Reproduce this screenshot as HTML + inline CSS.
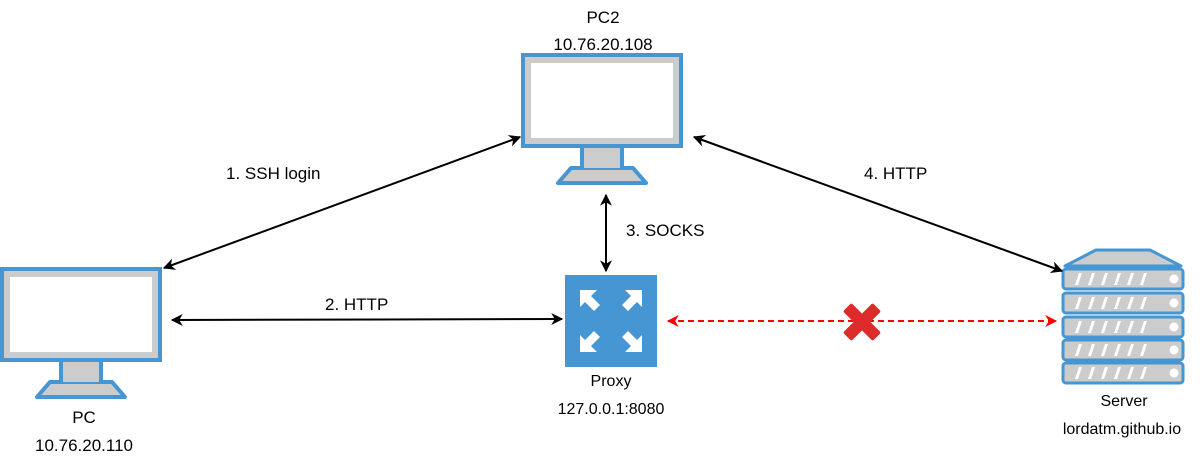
<!DOCTYPE html>
<html><head><meta charset="utf-8"><style>
body{margin:0;background:#fff;}
svg text{font-family:"Liberation Sans",sans-serif;font-size:17px;fill:#000;}
</style></head><body>
<svg width="1200" height="462" viewBox="0 0 1200 462" xmlns="http://www.w3.org/2000/svg">
<defs>
<marker id="a" viewBox="0 0 10 10" refX="9" refY="5" markerWidth="14" markerHeight="12" orient="auto-start-reverse" markerUnits="userSpaceOnUse"><path d="M0,0 L10,5 L0,10 L3,5Z" fill="#000"/></marker>
<marker id="r" viewBox="0 0 10 10" refX="9" refY="5" markerWidth="14" markerHeight="12" orient="auto-start-reverse" markerUnits="userSpaceOnUse"><path d="M0,0 L10,5 L0,10 L3,5Z" fill="#f00"/></marker>
<g id="mon">
<rect x="2" y="2" width="158" height="91" fill="#ccc" stroke="#4596d3" stroke-width="4"/>
<rect x="10" y="10" width="142" height="75" fill="#fff"/>
<rect x="61" y="95" width="40" height="32" fill="#ccc" stroke="#4596d3" stroke-width="4"/>
<path d="M50,115 L112,115 L125,130 L37,130Z" fill="#ccc" stroke="#4596d3" stroke-width="4" stroke-linejoin="round"/>
<rect x="61" y="95" width="40" height="20" fill="#ccc"/>
<path d="M61,95 V117 M101,95 V117" stroke="#4596d3" stroke-width="4"/>
</g>
<g id="row"><rect x="0" y="0" width="120" height="20" rx="3" fill="#ccc" stroke="#4596d3" stroke-width="3"/>
<path d="M12,16 l4,-12 h3 l-4,12z M25,16 l4,-12 h3 l-4,12z M38,16 l4,-12 h3 l-4,12z M51,16 l4,-12 h3 l-4,12z M64,16 l4,-12 h3 l-4,12z M77,16 l4,-12 h3 l-4,12z" fill="#fff"/>
<circle cx="111" cy="10" r="4.5" fill="#fff"/></g>
</defs>
<use href="#mon" x="521" y="53"/>
<text x="603" y="23" text-anchor="middle">PC2</text>
<text x="603" y="50" text-anchor="middle">10.76.20.108</text>
<use href="#mon" x="0" y="267"/>
<text x="84" y="423" text-anchor="middle">PC</text>
<text x="84" y="451" text-anchor="middle">10.76.20.110</text>
<rect x="565" y="275" width="92" height="92" fill="#4596d3"/>
<g fill="#fff">
<path d="M580,290 h17 l-6,6 l9,9 l-6,6 l-9,-9 l-5,5z"/>
<path d="M642,290 h-17 l6,6 l-9,9 l6,6 l9,-9 l5,5z"/>
<path d="M580,352 h17 l-6,-6 l9,-9 l-6,-6 l-9,9 l-5,-5z"/>
<path d="M642,352 h-17 l6,-6 l-9,-9 l6,-6 l9,9 l5,-5z"/>
</g>
<text x="611" y="386" text-anchor="middle" style="font-size:16px">Proxy</text>
<text x="611" y="414" text-anchor="middle" style="font-size:16px">127.0.0.1:8080</text>
<path d="M1065,266 L1096,250 L1150,250 L1181,266Z" fill="#ccc" stroke="#4596d3" stroke-width="3" stroke-linejoin="round"/>
<use href="#row" x="1063" y="269"/>
<use href="#row" x="1063" y="293"/>
<use href="#row" x="1063" y="317"/>
<use href="#row" x="1063" y="340"/>
<use href="#row" x="1063" y="363"/>
<text x="1124" y="406" text-anchor="middle" style="font-size:16px">Server</text>
<text x="1122" y="434" text-anchor="middle" style="font-size:16px">lordatm.github.io</text>
<line x1="164" y1="268" x2="520" y2="137" stroke="#000" stroke-width="2" marker-start="url(#a)" marker-end="url(#a)"/>
<text x="226" y="179">1. SSH login</text>
<line x1="172" y1="320" x2="562" y2="319" stroke="#000" stroke-width="2" marker-start="url(#a)" marker-end="url(#a)"/>
<text x="325" y="310">2. HTTP</text>
<line x1="606" y1="195" x2="606" y2="271" stroke="#000" stroke-width="2" marker-start="url(#a)" marker-end="url(#a)"/>
<text x="626" y="236">3. SOCKS</text>
<line x1="694" y1="137" x2="1062" y2="271" stroke="#000" stroke-width="2" marker-start="url(#a)" marker-end="url(#a)"/>
<text x="864" y="179">4. HTTP</text>
<line x1="668" y1="321" x2="1056" y2="321" stroke="#f00" stroke-width="2" stroke-dasharray="6,4" marker-start="url(#r)" marker-end="url(#r)"/>
<g transform="translate(862,322) rotate(45)">
<rect x="-21" y="-6" width="42" height="12" rx="2" fill="#dd2a2a"/>
<rect x="-6" y="-21" width="12" height="42" rx="2" fill="#dd2a2a"/>
</g>
</svg>
</body></html>
